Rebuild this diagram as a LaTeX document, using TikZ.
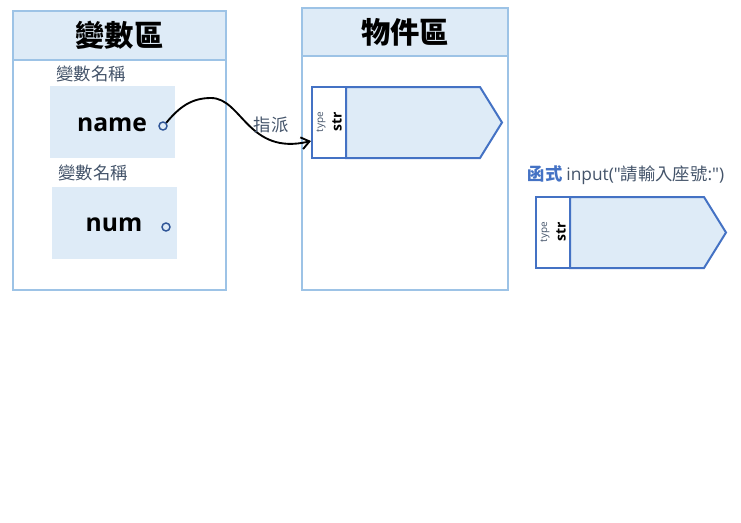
\documentclass[tikz,border=0pt]{standalone}
\usepackage{fontspec}
\setmainfont{Noto Sans CJK TC}
\newfontfamily\lat{Open Sans}
\usetikzlibrary{arrows.meta}
\definecolor{hdrfill}{HTML}{DEEBF7}
\definecolor{hdrline}{HTML}{9DC3E6}
\definecolor{objline}{HTML}{4472C4}
\definecolor{graytxt}{HTML}{44546A}
\definecolor{portcol}{HTML}{2F5597}
\begin{document}
\begin{tikzpicture}[x=0.75pt,y=-0.75pt,
  zone/.style={draw=hdrline, line width=1pt, inner sep=0pt},
  hdr/.style={zone, fill=hdrfill, font=\bfseries\fontsize{22}{26}\selectfont},
  varbox/.style={fill=hdrfill, inner sep=0pt, minimum width=93.75pt, minimum height=54pt},
  varname/.style={font=\lat\bfseries\fontsize{18.5}{22}\selectfont},
  lbl/.style={text=graytxt, font=\fontsize{13}{15}\selectfont, inner sep=0pt},
  port/.style={circle, draw=portcol, line width=1.1pt, minimum size=6pt, inner sep=0pt},
  typebox/.style={draw=objline, fill=white, line width=1.5pt, inner sep=0pt, minimum width=25.5pt, minimum height=53.25pt},
  body/.style={draw=objline, fill=hdrfill, line width=1.5pt, line join=miter},
  typetxt/.style={rotate=90, text=graytxt, font=\lat\fontsize{7.5}{8}\selectfont, inner sep=0pt},
  strtxt/.style={rotate=90, font=\lat\bfseries\fontsize{10.5}{12}\selectfont, inner sep=0pt},
  link/.style={draw=black, line width=1.4pt, -{Straight Barb[length=6pt,width=9pt,line width=1.4pt]}}
]
\useasboundingbox (0,0) rectangle (741,522);
% variable zone
\node[zone, minimum width=159.75pt, minimum height=209.25pt] (vz) at (119.5,150.5) {};
\node[hdr, minimum width=159.75pt, minimum height=36.75pt] (vh) at (119.5,35.5) {變數區};
\node[lbl] (l1) at (91,74) {變數名稱};
\node[varbox] (vb1) at (112.5,122) {};
\node[varname] (n1) at (112,125) {name};
\node[port] (p1) at (163,126) {};
\node[lbl] (l2) at (93,173) {變數名稱};
\node[varbox] (vb2) at (114.5,223) {};
\node[varname] (n2) at (114,225) {num};
\node[port] (p2) at (166,227) {};
% object zone
\node[zone, minimum width=154.5pt, minimum height=211.5pt] (oz) at (405,149) {};
\node[hdr, minimum width=154.5pt, minimum height=36pt] (oh) at (405,32) {物件區};
% object 1
\coordinate (o1) at (346,87);
\draw[body] (o1) -- ++(134,0) -- ++(22,35.5) -- ++(-22,35.5) -- ++(-134,0) -- cycle;
\node[typebox] (t1) at (329,122.5) {};
\node[typetxt] (ty1) at (321,122) {type};
\node[strtxt] (st1) at (337,122) {str};
% object 2
\coordinate (o2) at (570,197);
\draw[body] (o2) -- ++(134,0) -- ++(22,35.5) -- ++(-22,35.5) -- ++(-134,0) -- cycle;
\node[typebox] (t2) at (553,232.5) {};
\node[typetxt] (ty2) at (545,232) {type};
\node[strtxt] (st2) at (561,232) {str};
% function label
\node[inner sep=0pt, font=\fontsize{13}{15}\selectfont, text=graytxt] (fn) at (626,175)
  {{\bfseries\color{objline}函式} {\lat input("}請輸入座號{\lat :")}};
% assignment connector
\coordinate (peak) at (211,98);
\coordinate (tip) at (311,141);
\draw[link] (p1.north east) to[out=50,in=180] (peak) .. controls (242,98) and (248,156) .. (tip);
\node[lbl] (asg) at (271,125) {指派};
\end{tikzpicture}
\end{document}
